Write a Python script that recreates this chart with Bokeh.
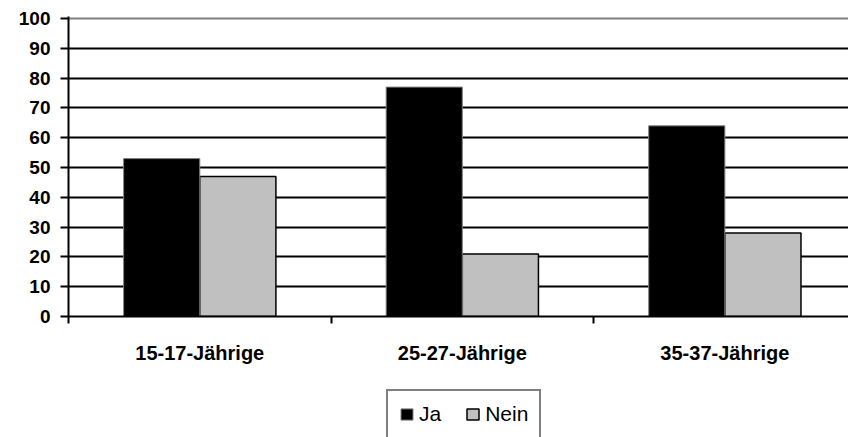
import numpy as np
from bokeh.plotting import figure
from bokeh.layouts import column
from bokeh.models import (Range1d, FixedTicker, Grid, Legend, LegendItem, ColumnDataSource)
from bokeh.embed import file_html
from bokeh.resources import INLINE

categories = ["15-17-Jährige", "25-27-Jährige", "35-37-Jährige"]
ja = [53, 77, 64]
nein = [47, 21, 28]
series_names = ["Ja", "Nein"]
y_ticks = [0, 10, 20, 30, 40, 50, 60, 70, 80, 90, 100]

idx = np.arange(len(categories))
src = ColumnDataSource(dict(
    x_ja=idx + 0.355, x_nein=idx + 0.645, ja=ja, nein=nein,
))

JA_STYLE = dict(fill_color="black", line_color="#808080", line_width=1)
NEIN_STYLE = dict(fill_color="#C0C0C0", line_color="black", line_width=1.5)

p = figure(width=848, height=380, output_backend="svg", toolbar_location=None,
           x_range=Range1d(0, 2.971), y_range=Range1d(0, 100.7),
           min_border_left=68, min_border_right=0, min_border_top=16, min_border_bottom=64)

p.vbar(x="x_ja", top="ja", width=0.29, source=src, **JA_STYLE)
p.vbar(x="x_nein", top="nein", width=0.29, source=src, **NEIN_STYLE)

p.outline_line_color = None
p.background_fill_color = "white"
p.border_fill_color = "white"

# grid
p.xgrid.visible = False
p.ygrid.ticker = FixedTicker(ticks=y_ticks[1:-1])
p.ygrid.grid_line_color = "black"
p.ygrid.grid_line_width = 2
top_grid = Grid(dimension=1, ticker=FixedTicker(ticks=[y_ticks[-1]]),
                grid_line_color="#808080", grid_line_width=2)
p.add_layout(top_grid)
p.renderers.insert(0, p.renderers.pop())

# y axis
p.yaxis.ticker = FixedTicker(ticks=y_ticks)
p.yaxis.axis_line_color = "black"
p.yaxis.axis_line_width = 2
p.yaxis.major_tick_line_width = 2
p.yaxis.major_tick_out = 8
p.yaxis.major_tick_in = 0
p.yaxis.minor_tick_line_color = None
p.yaxis.major_label_text_font = "Liberation Sans"
p.yaxis.major_label_text_font_style = "bold"
p.yaxis.major_label_text_font_size = "19px"
p.yaxis.major_label_text_color = "black"
p.yaxis.major_label_standoff = 10

# x axis
p.xaxis.ticker = FixedTicker(ticks=list(idx + 0.5), minor_ticks=list(range(len(categories) + 1)))
p.xaxis.major_label_overrides = {float(i + 0.5): c for i, c in enumerate(categories)}
p.xaxis.axis_line_color = "black"
p.xaxis.axis_line_width = 2
p.xaxis.major_tick_line_color = None
p.xaxis.major_tick_out = 0
p.xaxis.major_tick_in = 0
p.xaxis.minor_tick_line_color = "black"
p.xaxis.minor_tick_line_width = 2
p.xaxis.minor_tick_out = 7
p.xaxis.minor_tick_in = 0
p.xaxis.major_label_text_font = "Liberation Sans"
p.xaxis.major_label_text_font_style = "bold"
p.xaxis.major_label_text_font_size = "20px"
p.xaxis.major_label_text_color = "black"
p.xaxis.major_label_standoff = 18

# legend strip below the chart (its own small canvas; its renderers are hidden,
# they only lend their styles to the legend swatches)
lg = figure(width=848, height=57, output_backend="svg", toolbar_location=None,
            x_range=Range1d(0, 2.971), y_range=Range1d(0, 100.7),
            x_axis_location=None, y_axis_location=None, min_border=0)
lg.grid.visible = False
lg.outline_line_color = None
lg.background_fill_color = "white"
lg.border_fill_color = "white"
l_ja = lg.vbar(x="x_ja", top="ja", width=0.29, source=src, visible=False, **JA_STYLE)
l_nein = lg.vbar(x="x_nein", top="nein", width=0.29, source=src, visible=False, **NEIN_STYLE)

legend = Legend(items=[LegendItem(label=series_names[0], renderers=[l_ja]),
                       LegendItem(label=series_names[1], renderers=[l_nein])],
                orientation="horizontal", location=(318, -2),
                label_text_font="Liberation Sans", label_text_font_size="21px",
                label_text_color="black",
                glyph_width=15, glyph_height=14, label_standoff=5, spacing=24,
                padding=11, margin=0, click_policy="none",
                inactive_fill_alpha=0,
                border_line_color="black", border_line_width=2,
                background_fill_color="white", background_fill_alpha=1)
lg.add_layout(legend, "center")

layout = column(p, lg, spacing=0)
open("out.html", "w").write(file_html(layout, INLINE))
